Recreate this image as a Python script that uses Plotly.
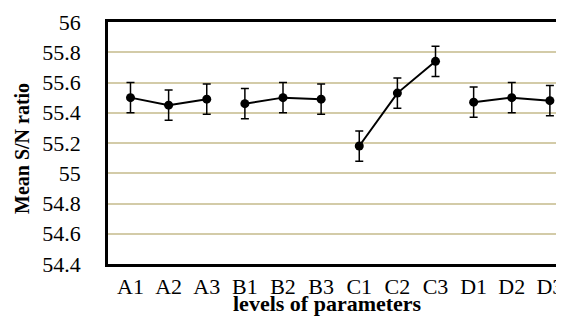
import plotly.graph_objects as go

levels = ["A1", "A2", "A3", "B1", "B2", "B3", "C1", "C2", "C3", "D1", "D2", "D3"]
groups = [["A1", "A2", "A3"], ["B1", "B2", "B3"], ["C1", "C2", "C3"], ["D1", "D2", "D3"]]
mean_sn = [55.50, 55.45, 55.49, 55.46, 55.50, 55.49, 55.18, 55.53, 55.74, 55.47, 55.50, 55.48]
err = [0.1] * 12
y_ticks = [54.4, 54.6, 54.8, 55.0, 55.2, 55.4, 55.6, 55.8, 56.0]
y_tick_text = ["54.4", "54.6", "54.8", "55", "55.2", "55.4", "55.6", "55.8", "56"]

fig = go.Figure()
for g in groups:
    idx = [levels.index(c) for c in g]
    fig.add_trace(go.Scatter(
        x=[levels.index(c) for c in g],
        y=[mean_sn[i] for i in idx],
        mode="lines+markers",
        line=dict(color="black", width=2),
        marker=dict(color="black", size=9),
        error_y=dict(type="data", array=[err[i] for i in idx], color="black",
                     thickness=1.5, width=4),
        showlegend=False,
    ))

font_fam = "Liberation Serif, Times New Roman, serif"
OFF = 8  # page body margin
W, H = 564 - OFF, 320 - OFF
L, R, T, B = 108 - OFF, 0, 22 - OFF, 56
pw, ph = W - L - R, H - T - B


def px_to_paper(x, y):
    return (x - OFF - L) / pw, (H - B - (y - OFF)) / ph


ax, ay = px_to_paper(327, 303)
bx, by = px_to_paper(22, 149)

fig.update_layout(
    width=W, height=H,
    margin=dict(l=L, r=R, t=T, b=B, autoexpand=False),
    paper_bgcolor="white", plot_bgcolor="white",
    font=dict(family=font_fam, color="black"),
    xaxis=dict(
        tickmode="array", tickvals=list(range(12)), ticktext=levels,
        range=[-0.59, 11.37], showgrid=False, zeroline=False, automargin=False,
        showline=True, linecolor="black", linewidth=2.5, mirror=True,
        ticks="", tickfont=dict(size=22, family=font_fam), ticklabelstandoff=1,
    ),
    yaxis=dict(
        range=[54.4, 56.0], tickmode="array", tickvals=y_ticks, ticktext=y_tick_text,
        showgrid=True, gridcolor="#d3cba8", gridwidth=1.5, zeroline=False, automargin=False,
        showline=True, linecolor="black", linewidth=2.5,
        ticks="", tickfont=dict(size=22, family=font_fam), ticklabelstandoff=20,
    ),
    annotations=[
        dict(text="<b>levels of parameters</b>", x=ax, y=ay, xref="paper", yref="paper",
             xanchor="center", yanchor="middle", showarrow=False,
             font=dict(size=22, family=font_fam)),
        dict(text="<b>Mean S/N ratio</b>", x=bx, y=by, xref="paper", yref="paper",
             xanchor="center", yanchor="middle", textangle=-90, showarrow=False,
             font=dict(size=20, family=font_fam)),
    ],
)

fig.write_html("out.html")
